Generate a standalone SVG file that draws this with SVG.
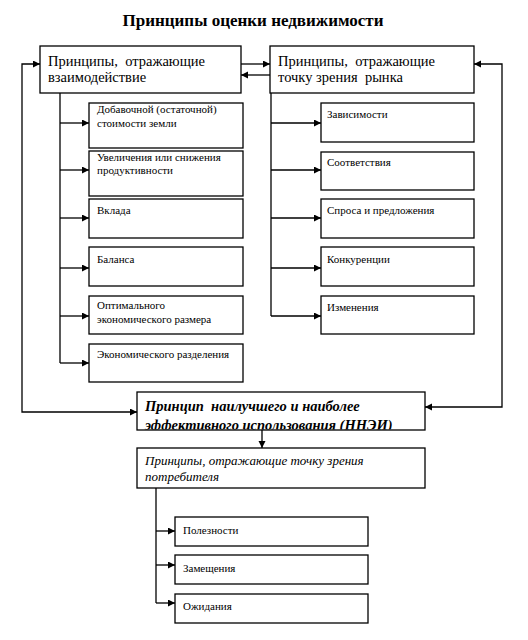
<svg xmlns="http://www.w3.org/2000/svg" width="528" height="640" viewBox="0 0 528 640" font-family="Liberation Serif, serif">
<style>
.box{fill:#fff;stroke:#000;stroke-width:1.3}
.h{font-size:14.5px}
.s{font-size:11px}
.ln{fill:none;stroke:#000;stroke-width:1.3}
</style>
<defs>
<marker id="ar" markerUnits="userSpaceOnUse" markerWidth="8" markerHeight="8" refX="7" refY="3.5" orient="auto"><path d="M0,0 L7,3.5 L0,7 z" fill="#000"/></marker>
<clipPath id="cc"><rect x="137" y="392" width="288" height="37.4"/></clipPath>
</defs>
<rect width="528" height="640" fill="#fff"/>
<text x="253" y="26" text-anchor="middle" font-size="17" font-weight="bold">Принципы оценки недвижимости</text>

<g id="connectors">
<path class="ln" d="M241,64 L270,64" marker-end="url(#ar)"/>
<path class="ln" d="M270,75 L241,75" marker-end="url(#ar)"/>
<path class="ln" d="M22,236 L22,64 L40,64" marker-end="url(#ar)"/>
<path class="ln" d="M22,236 L22,412 L137,412" marker-end="url(#ar)"/>
<path class="ln" d="M502,236 L502,64 L474,64" marker-end="url(#ar)"/>
<path class="ln" d="M502,236 L502,407 L425,407" marker-end="url(#ar)"/>
<path class="ln" d="M262,430 L262,448" marker-end="url(#ar)"/>
<path class="ln" d="M60,93 L60,363"/>
<path class="ln" d="M60,123 L89,123" marker-end="url(#ar)"/>
<path class="ln" d="M60,170 L89,170" marker-end="url(#ar)"/>
<path class="ln" d="M60,218 L89,218" marker-end="url(#ar)"/>
<path class="ln" d="M60,268 L89,268" marker-end="url(#ar)"/>
<path class="ln" d="M60,316 L89,316" marker-end="url(#ar)"/>
<path class="ln" d="M60,363 L89,363" marker-end="url(#ar)"/>
<path class="ln" d="M271,93 L271,316"/>
<path class="ln" d="M271,123 L321,123" marker-end="url(#ar)"/>
<path class="ln" d="M271,170 L321,170" marker-end="url(#ar)"/>
<path class="ln" d="M271,218 L321,218" marker-end="url(#ar)"/>
<path class="ln" d="M271,268 L321,268" marker-end="url(#ar)"/>
<path class="ln" d="M271,316 L321,316" marker-end="url(#ar)"/>
<path class="ln" d="M156,488 L156,603"/>
<path class="ln" d="M156,531 L175,531" marker-end="url(#ar)"/>
<path class="ln" d="M156,565 L175,565" marker-end="url(#ar)"/>
<path class="ln" d="M156,603 L175,603" marker-end="url(#ar)"/>
</g>

<g id="nodeA"><rect class="box" x="40" y="46" width="201" height="47"/>
<text class="h" x="48" y="66" xml:space="preserve">Принципы,  отражающие</text>
<text class="h" x="48" y="82">взаимодействие</text></g>
<g id="nodeB"><rect class="box" x="270" y="46" width="204" height="47"/>
<text class="h" x="278" y="66" xml:space="preserve">Принципы,  отражающие</text>
<text class="h" x="278" y="82" xml:space="preserve">точку зрения  рынка</text></g>

<g id="l1"><rect class="box" x="89" y="103" width="154" height="45"/>
<text class="s" x="97" y="113">Добавочной (остаточной)</text>
<text class="s" x="97" y="127">стоимости земли</text></g>
<g id="l2"><rect class="box" x="89" y="151" width="154" height="45"/>
<text class="s" x="97" y="161">Увеличения или снижения</text>
<text class="s" x="97" y="174">продуктивности</text></g>
<g id="l3"><rect class="box" x="89" y="199" width="154" height="39"/>
<text class="s" x="97" y="214">Вклада</text></g>
<g id="l4"><rect class="box" x="89" y="247" width="154" height="39"/>
<text class="s" x="97" y="263">Баланса</text></g>
<g id="l5"><rect class="box" x="89" y="296" width="154" height="38"/>
<text class="s" x="97" y="309">Оптимального</text>
<text class="s" x="97" y="323">экономического размера</text></g>
<g id="l6"><rect class="box" x="89" y="344" width="154" height="38"/>
<text class="s" x="97" y="358">Экономического разделения</text></g>

<g id="r1"><rect class="box" x="321" y="103" width="153" height="39"/>
<text class="s" x="327" y="118">Зависимости</text></g>
<g id="r2"><rect class="box" x="321" y="152" width="153" height="38"/>
<text class="s" x="327" y="166">Соответствия</text></g>
<g id="r3"><rect class="box" x="321" y="199" width="153" height="39"/>
<text class="s" x="327" y="214">Спроса и предложения</text></g>
<g id="r4"><rect class="box" x="321" y="247" width="153" height="39"/>
<text class="s" x="327" y="263">Конкуренции</text></g>
<g id="r5"><rect class="box" x="321" y="296" width="153" height="38"/>
<text class="s" x="327" y="311">Изменения</text></g>

<g id="nodeC"><rect x="137" y="392" width="288" height="38" fill="#fff"/>
<g clip-path="url(#cc)">
<text x="145" y="411" font-size="14.5" font-weight="bold" font-style="italic" xml:space="preserve">Принцип  наилучшего и наиболее</text>
<text x="145" y="430" font-size="14.5" font-weight="bold" font-style="italic">эффективного использования (ННЭИ)</text>
</g>
<rect x="137" y="392" width="288" height="38" fill="none" stroke="#000" stroke-width="1.3"/></g>

<g id="nodeD"><rect class="box" x="137" y="448" width="288" height="40"/>
<text x="145" y="465" font-size="13" font-style="italic">Принципы, отражающие точку зрения</text>
<text x="145" y="481" font-size="13" font-style="italic">потребителя</text></g>

<g id="c1"><rect class="box" x="175" y="517" width="193" height="29"/>
<text class="s" x="183" y="534">Полезности</text></g>
<g id="c2"><rect class="box" x="175" y="555" width="193" height="29"/>
<text class="s" x="183" y="572">Замещения</text></g>
<g id="c3"><rect class="box" x="175" y="594" width="193" height="29"/>
<text class="s" x="183" y="610">Ожидания</text></g>
</svg>
